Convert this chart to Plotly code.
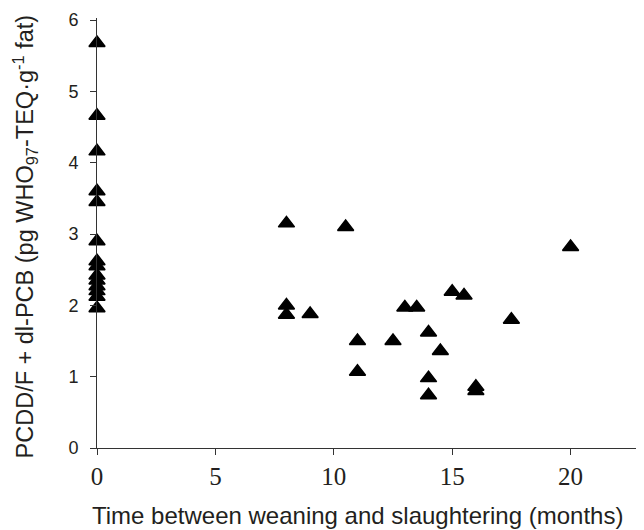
import plotly.graph_objects as go

months = [0, 0, 0, 0, 0, 0, 0, 0, 0, 0, 0, 0, 0, 0,
          8, 8, 8, 9, 10.5, 11, 11, 12.5, 13, 13.5, 14, 14, 14, 14.5,
          15, 15.5, 16, 16, 17.5, 20]
teq = [5.68, 4.66, 4.16, 3.6, 3.45, 2.9, 2.62, 2.55, 2.42, 2.35, 2.27, 2.2, 2.12, 1.96,
       3.15, 2.0, 1.87, 1.88, 3.1, 1.5, 1.07, 1.5, 1.97, 1.97, 1.62, 0.98, 0.74, 1.36,
       2.19, 2.14, 0.86, 0.8, 1.8, 2.82]

x_ticks = [0, 5, 10, 15, 20]
y_ticks = [0, 1, 2, 3, 4, 5, 6]

x_title = "Time between weaning and slaughtering (months)"
y_title = "PCDD/F + dl-PCB (pg WHO<sub>97</sub>-TEQ·g<sup>-1</sup> fat)"

fig = go.Figure()
fig.add_trace(go.Scatter(
    x=months, y=teq, mode="markers",
    marker=dict(symbol="triangle-up", size=14, color="black",
                line=dict(color="black", width=1.5)),
    showlegend=False, cliponaxis=False,
))

axis_line = "#333333"
text_col = "#231f20"
fig.update_layout(
    width=636, height=522,
    margin=dict(l=89, r=0, t=10, b=82),
    paper_bgcolor="white", plot_bgcolor="white",
    xaxis=dict(range=[0, 23.1], tickvals=x_ticks, showgrid=False, zeroline=False,
               showline=True, linecolor=axis_line, linewidth=1,
               ticks="outside", ticklen=6, tickcolor=axis_line,
               tickfont=dict(family="Liberation Serif", size=25, color=text_col)),
    yaxis=dict(range=[0, 6.03], tickvals=y_ticks, showgrid=False, zeroline=False,
               showline=True, linecolor=axis_line, linewidth=1,
               ticks="outside", ticklen=6, tickcolor=axis_line, ticklabelstandoff=8,
               tickfont=dict(family="Liberation Sans", size=18, color=text_col)),
    annotations=[
        dict(text=x_title, xref="paper", yref="paper", x=0.477, y=-0.158,
             xanchor="center", yanchor="middle", showarrow=False,
             font=dict(family="Liberation Sans", size=24, color=text_col)),
        dict(text=y_title, xref="paper", yref="paper", x=-0.1316, y=0.492,
             xanchor="center", yanchor="middle", showarrow=False, textangle=-90,
             font=dict(family="Liberation Sans", size=23.5, color=text_col)),
    ],
)

fig.write_html("out.html")
